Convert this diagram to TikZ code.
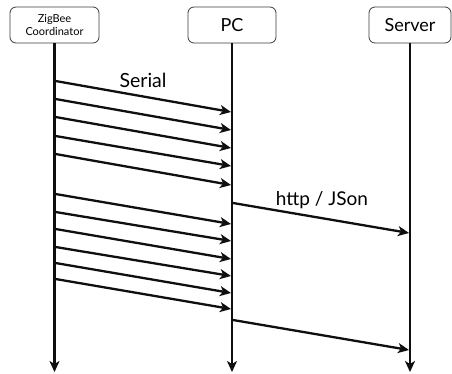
\documentclass[tikz,border=0pt]{standalone}
\usepackage{fontspec}
\setmainfont{Lato}
\usepackage{tikz}
\usetikzlibrary{shapes,arrows,arrows.meta,positioning,calc}
\definecolor{inkblack}{RGB}{15, 15, 15}
\definecolor{boxgray}{RGB}{60, 60, 60}

\begin{document}
\begin{tikzpicture}[x=1pt,y=-1pt,
    party/.style={draw=boxgray,line width=0.8pt,rounded corners=6pt,fill=white,
        minimum height=36pt,align=center,inner sep=2pt},
    life/.style={draw=inkblack,line width=2.4pt,-{Stealth[length=11pt,width=10pt,inset=3pt]}},
    msg/.style={draw=inkblack,line width=2.3pt,-{Stealth[length=11pt,width=10pt,inset=3pt]}}]
    \useasboundingbox (0,0) rectangle (452,374);

    % Participants
    \node[party,minimum width=89pt,font=\fontsize{11}{12.5}\selectfont] (zig) at (54.5,25) {ZigBee\\Coordinator};
    \node[party,minimum width=88pt,font=\fontsize{18}{20}\selectfont] (pc) at (232,25) {PC};
    \node[party,minimum width=82pt,font=\fontsize{18}{20}\selectfont] (srv) at (410,25) {Server};

    % Lifelines
    \coordinate (zigend) at (54.5,372);
    \coordinate (pcend) at (232,372);
    \coordinate (srvend) at (410,372);
    \draw[life] (zig.south) -- (zigend);
    \draw[life] (pc.south) -- (pcend);
    \draw[life] (srv.south) -- (srvend);

    % Serial messages ZigBee -> PC
    \foreach \i/\ys/\ye in {1/81/112,2/99/130,3/117/148,4/136/166,5/154/185,
                            6/194/224,7/212/241,8/229/259,9/247/276,10/263/293,11/279/309} {
        \coordinate (zs\i) at (55.5,\ys);
        \coordinate (pe\i) at (231,\ye);
        \draw[msg] (zs\i) -- (pe\i);
    }
    \node[font=\fontsize{19.5}{22}\selectfont,anchor=base] (serial) at (143,88) {Serial};

    % http / JSon messages PC -> Server
    \coordinate (ps1) at (233,203);
    \coordinate (se1) at (409,233);
    \coordinate (ps2) at (233,320);
    \coordinate (se2) at (409,350);
    \draw[msg] (ps1) -- (se1);
    \draw[msg] (ps2) -- (se2);
    \node[font=\fontsize{19}{22}\selectfont,anchor=base] (http) at (322,205) {http / JSon};
\end{tikzpicture}
\end{document}
